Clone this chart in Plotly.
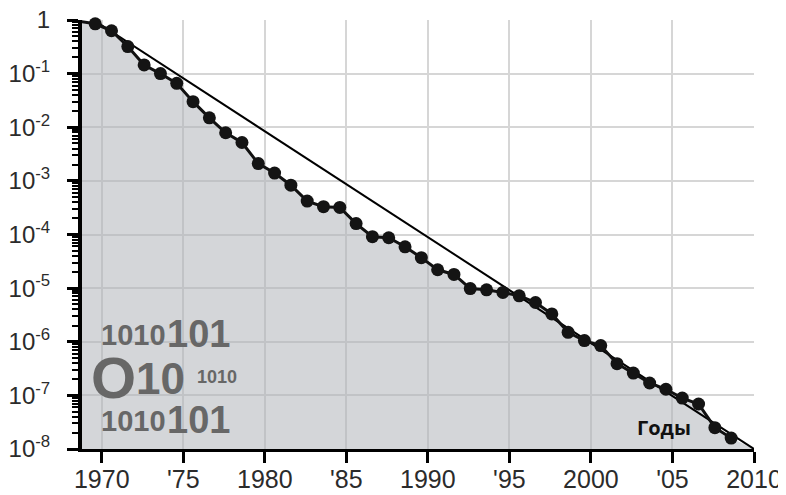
import plotly.graph_objects as go

# ---------------- data ----------------
YEARS = [1968.6, 1969.6, 1970.6, 1971.6, 1972.6, 1973.6, 1974.6, 1975.6, 1976.6, 1977.6,
         1978.6, 1979.6, 1980.6, 1981.6, 1982.6, 1983.6, 1984.6, 1985.6, 1986.6, 1987.6,
         1988.6, 1989.6, 1990.6, 1991.6, 1992.6, 1993.6, 1994.6, 1995.6, 1996.6, 1997.6,
         1998.6, 1999.6, 2000.6, 2001.6, 2002.6, 2003.6, 2004.6, 2005.6, 2006.6, 2007.6,
         2008.6]
VALUES = [0.95, 0.85, 0.63, 0.32, 0.145, 0.10, 0.066, 0.030, 0.015, 0.0079,
          0.0052, 0.0021, 0.0014, 0.00083, 0.00042, 0.00033, 0.00032, 0.00016, 0.000091, 0.000087,
          0.000059, 0.000037, 0.000022, 0.000018, 0.0000098, 0.0000093, 0.0000083, 0.0000072, 0.0000054, 0.0000033,
          0.0000015, 0.00000105, 0.00000085, 0.00000039, 0.00000026, 0.00000017, 0.00000013, 0.000000089, 0.000000069, 0.000000025,
          0.000000016]
TREND_X = [1969.5, 2010]
TREND_Y = [1, 1e-8]

X_TICKS = [1970, 1975, 1980, 1985, 1990, 1995, 2000, 2005, 2010]
X_LABELS = ["1970", "'75", "1980", "'85", "1990", "'95", "2000", "'05", "2010"]
Y_TICKS = [1, 1e-1, 1e-2, 1e-3, 1e-4, 1e-5, 1e-6, 1e-7, 1e-8]
Y_LABELS = ["1", "10<sup>-1</sup>", "10<sup>-2</sup>", "10<sup>-3</sup>", "10<sup>-4</sup>",
            "10<sup>-5</sup>", "10<sup>-6</sup>", "10<sup>-7</sup>", "10<sup>-8</sup>"]

# ---------------- figure ----------------
fig = go.Figure()

# grey area under the curve (closed down to the axis floor through the trend end)
fill_x = YEARS + [TREND_X[-1], YEARS[0]]
fill_y = VALUES + [TREND_Y[-1], TREND_Y[-1]]
fig.add_trace(go.Scatter(x=fill_x, y=fill_y, mode="none", fill="toself",
                         fillcolor="rgba(176,180,186,0.55)", hoverinfo="skip",
                         showlegend=False))

fig.add_trace(go.Scatter(x=TREND_X, y=TREND_Y, mode="lines",
                         line=dict(color="#000000", width=2), showlegend=False,
                         cliponaxis=False))

fig.add_trace(go.Scatter(x=YEARS, y=VALUES, mode="lines+markers",
                         line=dict(color="#111111", width=3),
                         marker=dict(size=13, color="#141414"),
                         showlegend=False, cliponaxis=False))

# the page body has an 8px margin, so the figure is 8px smaller and margins shifted
fig.update_layout(
    width=778, height=487,
    margin=dict(l=74, r=32, t=12, b=46),
    paper_bgcolor="white", plot_bgcolor="white",
    xaxis=dict(range=[1968.79, 2010], tickvals=X_TICKS, ticktext=X_LABELS,
               showgrid=True, gridcolor="#d6d6d6", gridwidth=2,
               showline=True, linecolor="#000000", linewidth=3,
               ticks="outside", ticklen=11, tickwidth=3, tickcolor="#000000",
               ticklabelstandoff=-5, ticklabeloverflow="allow",
               tickfont=dict(family="Liberation Sans, Arial, sans-serif", size=25, color="#2b2b2b"),
               zeroline=False, layer="above traces", automargin=False),
    yaxis=dict(type="log", range=[-8, 0], tickvals=Y_TICKS, ticktext=Y_LABELS,
               showgrid=True, gridcolor="#d6d6d6", gridwidth=2,
               showline=True, linecolor="#000000", linewidth=4,
               ticks="outside", ticklen=11, tickwidth=3, tickcolor="#000000",
               ticklabelstandoff=12, ticklabeloverflow="allow",
               tickfont=dict(family="Liberation Sans, Arial, sans-serif", size=24, color="#2b2b2b"),
               minor=dict(ticks="outside", ticklen=6, tickwidth=2, tickcolor="#000000",
                          dtick="D1", showgrid=False),
               zeroline=False, layer="above traces", automargin=False),
)

# decorative binary digits
GREY = "#676767"
FONT = "Liberation Sans, Arial, sans-serif"


def px_x(px):
    return (px - 82) / 672


def px_y(py):
    return (449 - py) / 429


def digit_text(text, left, center, size):
    fig.add_annotation(x=px_x(left), y=px_y(center), xref="paper", yref="paper",
                       xanchor="left", yanchor="middle", showarrow=False,
                       text="<b>" + text + "</b>",
                       font=dict(family=FONT, size=size, color=GREY))


digit_text("1010", 99, 335, 29)
digit_text("101", 165, 334, 38)
digit_text("O", 89, 377, 58)
digit_text("10", 134, 378, 44)
digit_text("1010", 195, 377, 18)
digit_text("1010", 99, 421, 29)
digit_text("101", 165, 420, 38)

fig.add_annotation(x=px_x(664), y=px_y(427), xref="paper", yref="paper",
                   xanchor="center", yanchor="middle", showarrow=False,
                   text="<b>Годы</b>",
                   font=dict(family="Open Sans, sans-serif", size=20, color="#111111"))

fig.write_html("out.html")
